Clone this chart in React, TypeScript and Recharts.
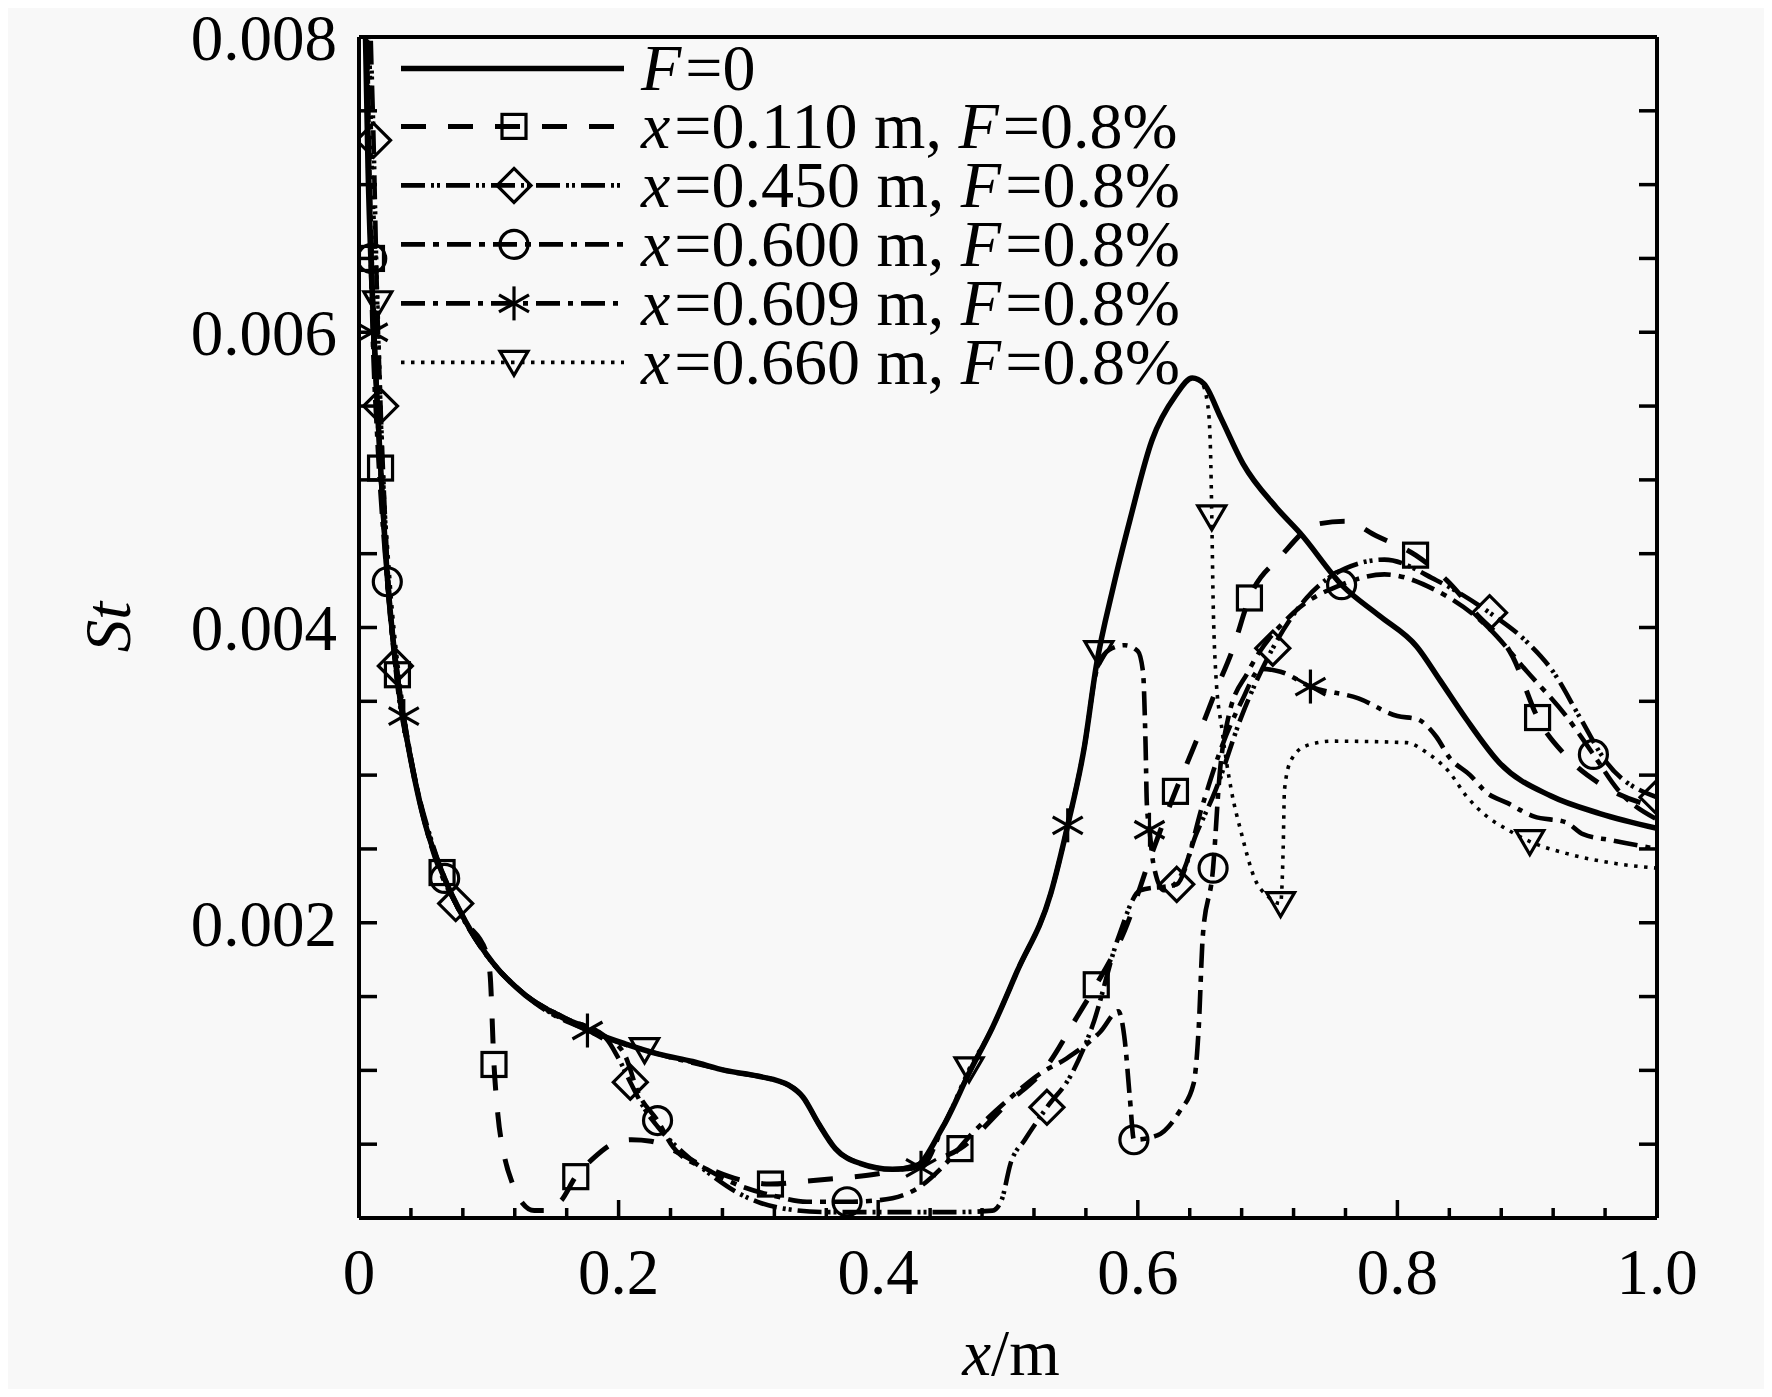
import React from "react";
import { LineChart, Line, XAxis, YAxis, Legend, ReferenceLine } from "recharts";

// [x (m), St, 1 = marker drawn at this point]
const noFilm = [
  [0.003, 0.0095], [0.005, 0.008], [0.007, 0.0071], [0.01, 0.0063], [0.013, 0.0057], [0.0166, 0.0051],
  [0.0218, 0.00435], [0.028, 0.00378], [0.034, 0.0034], [0.04, 0.0031], [0.051, 0.00267], [0.064, 0.00234],
  [0.082, 0.00201], [0.103, 0.00173], [0.128, 0.00151], [0.154, 0.00137], [0.18, 0.00126], [0.205, 0.00118],
  [0.231, 0.00111], [0.257, 0.00106], [0.282, 0.001], [0.308, 0.00096], [0.331, 0.0009], [0.342, 0.00082],
  [0.354, 0.00064], [0.367, 0.00047], [0.386, 0.00037], [0.411, 0.00033], [0.427, 0.00034], [0.45, 0.00062],
  [0.471, 0.001], [0.488, 0.00129], [0.507, 0.00167], [0.533, 0.0022], [0.546, 0.00266], [0.559, 0.0032],
  [0.568, 0.00374], [0.581, 0.00427], [0.594, 0.00473], [0.611, 0.00527], [0.629, 0.00557], [0.642, 0.00569],
  [0.651, 0.00565], [0.664, 0.00542], [0.681, 0.00511], [0.707, 0.00481], [0.725, 0.00464], [0.758, 0.00428],
  [0.786, 0.00408], [0.815, 0.00387], [0.833, 0.00364], [0.853, 0.00338], [0.879, 0.00308], [0.918, 0.00286],
  [0.956, 0.00274], [1.0, 0.00264],
];

const film110 = [
  [0.004, 0.0095], [0.006, 0.0079], [0.0096, 0.0065, 1], [0.013, 0.0057], [0.0166, 0.00508, 1], [0.022, 0.00432],
  [0.0296, 0.00368, 1], [0.04, 0.0031], [0.051, 0.00267], [0.064, 0.00234, 1], [0.082, 0.00201], [0.098, 0.0018],
  [0.101, 0.00165], [0.104, 0.00104, 1], [0.107, 0.0007], [0.112, 0.00042], [0.118, 0.00024], [0.126, 0.0001],
  [0.135, 0.00005], [0.147, 0.00005], [0.156, 0.00012], [0.167, 0.00028, 1], [0.18, 0.0004], [0.195, 0.0005],
  [0.21, 0.00053], [0.225, 0.00052], [0.242, 0.00046], [0.268, 0.00034], [0.293, 0.00026], [0.317, 0.00023, 1],
  [0.345, 0.00025], [0.37, 0.00027], [0.4, 0.0003], [0.43, 0.00036], [0.463, 0.00047, 1], [0.5, 0.00078],
  [0.53, 0.00103], [0.553, 0.00136], [0.568, 0.00158, 1], [0.59, 0.00195], [0.61, 0.00245], [0.629, 0.00289, 1],
  [0.645, 0.00323], [0.66, 0.00357], [0.673, 0.00385], [0.686, 0.0042, 1], [0.71, 0.00448], [0.738, 0.0047],
  [0.76, 0.00472], [0.784, 0.00462], [0.814, 0.00449, 1], [0.838, 0.00432], [0.86, 0.0041], [0.889, 0.0038],
  [0.908, 0.00339, 1], [0.931, 0.00312], [0.96, 0.00292], [1.0, 0.00278],
];

const film450 = [
  [0.006, 0.0095], [0.0085, 0.0082], [0.0112, 0.0073, 1], [0.014, 0.0062], [0.0166, 0.0055, 1], [0.022, 0.0044],
  [0.028, 0.00374, 1], [0.04, 0.0031], [0.055, 0.00258], [0.0745, 0.00213, 1], [0.1, 0.00176], [0.13, 0.0015],
  [0.16, 0.00135], [0.19, 0.00122], [0.2, 0.00108], [0.209, 0.00092, 1], [0.22, 0.00074], [0.23, 0.00062],
  [0.25, 0.00044], [0.27, 0.0003], [0.29, 0.00018], [0.31, 0.0001], [0.33, 0.00006], [0.36, 0.00004],
  [0.42, 0.00004], [0.46, 0.00004], [0.488, 0.00005], [0.495, 0.00012], [0.502, 0.00037], [0.513, 0.00053],
  [0.53, 0.00075, 1], [0.548, 0.00096], [0.565, 0.0013], [0.585, 0.0019], [0.602, 0.00222], [0.63, 0.00226, 1],
  [0.645, 0.0026], [0.66, 0.0029], [0.68, 0.0034], [0.704, 0.00386, 1], [0.73, 0.0042], [0.76, 0.0044],
  [0.79, 0.00446], [0.83, 0.00432], [0.871, 0.0041, 1], [0.9, 0.0039], [0.92, 0.0037], [0.94, 0.0034],
  [0.96, 0.0031], [1.0, 0.00285, 1],
];

const film600 = [
  [0.0045, 0.0095], [0.0065, 0.0079], [0.0098, 0.0065, 1], [0.013, 0.0057], [0.017, 0.005], [0.0218, 0.00431, 1],
  [0.03, 0.0036], [0.04, 0.0031], [0.051, 0.00267], [0.066, 0.0023, 1], [0.082, 0.00201], [0.103, 0.00173],
  [0.13, 0.0015], [0.16, 0.00135], [0.19, 0.00123], [0.205, 0.0011], [0.215, 0.00085], [0.23, 0.00066, 1],
  [0.242, 0.00048], [0.268, 0.00033], [0.293, 0.00022], [0.32, 0.00015], [0.345, 0.00011], [0.376, 0.00011, 1],
  [0.4, 0.00012], [0.43, 0.0002], [0.45, 0.00035], [0.47, 0.00055], [0.5, 0.0008], [0.525, 0.00098],
  [0.545, 0.00108], [0.571, 0.00126], [0.585, 0.0014], [0.59, 0.0012], [0.594, 0.0008], [0.597, 0.00053, 1],
  [0.615, 0.00056], [0.632, 0.00072], [0.643, 0.00091], [0.647, 0.0013], [0.65, 0.0019], [0.658, 0.00237, 1],
  [0.663, 0.003], [0.67, 0.0034], [0.685, 0.0037], [0.72, 0.0041], [0.757, 0.00429, 1], [0.79, 0.00436],
  [0.83, 0.00425], [0.87, 0.004], [0.9, 0.0037], [0.93, 0.0034], [0.951, 0.00314, 1], [0.97, 0.0029],
  [1.0, 0.0027],
];

const film609 = [
  [0.0045, 0.0092], [0.007, 0.0075], [0.0105, 0.006, 1], [0.014, 0.0053], [0.02, 0.0045], [0.027, 0.00385],
  [0.0345, 0.0034, 1], [0.051, 0.00267], [0.082, 0.00201], [0.128, 0.00151], [0.176, 0.00127, 1], [0.231, 0.00111],
  [0.282, 0.001], [0.331, 0.0009], [0.342, 0.00082], [0.354, 0.00064], [0.367, 0.00047], [0.386, 0.00037],
  [0.411, 0.00033], [0.433, 0.00034, 1], [0.45, 0.00062], [0.471, 0.001], [0.488, 0.00129], [0.507, 0.00167],
  [0.533, 0.0022], [0.546, 0.00266, 1], [0.559, 0.0032], [0.568, 0.0037], [0.578, 0.00385], [0.59, 0.00388],
  [0.6, 0.00384], [0.604, 0.0037], [0.606, 0.0032], [0.607, 0.0028], [0.609, 0.00263, 1], [0.612, 0.0024],
  [0.62, 0.00222], [0.635, 0.00235], [0.65, 0.0028], [0.665, 0.0032], [0.68, 0.0035], [0.695, 0.00372],
  [0.71, 0.0037], [0.733, 0.0036, 1], [0.77, 0.00352], [0.8, 0.0034], [0.815, 0.00338], [0.83, 0.00326],
  [0.84, 0.00312], [0.856, 0.003], [0.869, 0.00288], [0.885, 0.00281], [0.905, 0.00272], [0.93, 0.00268],
  [0.943, 0.0026], [0.964, 0.00256], [1.0, 0.0025],
];

const film660 = [
  [0.006, 0.0095], [0.009, 0.0076], [0.0145, 0.0062, 1], [0.018, 0.0052], [0.024, 0.0043], [0.032, 0.0036],
  [0.045, 0.0029], [0.064, 0.00234], [0.082, 0.00201], [0.128, 0.00151], [0.18, 0.00126], [0.22, 0.00114, 1],
  [0.282, 0.001], [0.331, 0.0009], [0.342, 0.00082], [0.354, 0.00064], [0.367, 0.00047], [0.386, 0.00037],
  [0.411, 0.00033], [0.427, 0.00034], [0.45, 0.00062], [0.47, 0.00101, 1], [0.488, 0.00129], [0.507, 0.00167],
  [0.533, 0.0022], [0.546, 0.00266], [0.559, 0.0032], [0.57, 0.00383, 1], [0.581, 0.00427], [0.594, 0.00473],
  [0.611, 0.00527], [0.629, 0.00557], [0.642, 0.00569], [0.649, 0.00566], [0.654, 0.0055], [0.656, 0.0052],
  [0.657, 0.00475, 1], [0.658, 0.0042], [0.66, 0.0037], [0.665, 0.0033], [0.672, 0.0029], [0.68, 0.0026],
  [0.69, 0.0023], [0.7, 0.00218], [0.71, 0.00213, 1], [0.712, 0.0025], [0.713, 0.0029], [0.718, 0.0031],
  [0.73, 0.0032], [0.75, 0.00323], [0.807, 0.00322], [0.823, 0.00315], [0.84, 0.00302], [0.853, 0.00286],
  [0.869, 0.00272], [0.885, 0.00263], [0.902, 0.00255, 1], [0.93, 0.00247], [0.969, 0.0024], [1.0, 0.00237],
];

const xTicks = [
  0, 0.04, 0.08, 0.12, 0.16, 0.2, 0.24, 0.28, 0.32, 0.36, 0.4, 0.44, 0.48, 0.52, 0.56, 0.6, 0.64, 0.68,
  0.72, 0.76, 0.8, 0.84, 0.88, 0.92, 0.96, 1.0,
];
const xMajor = [0, 0.2, 0.4, 0.6, 0.8, 1.0];
const xLabels = ["0", "0.2", "0.4", "0.6", "0.8", "1.0"];

const yTicks = [
  0, 0.0005, 0.001, 0.0015, 0.002, 0.0025, 0.003, 0.0035, 0.004, 0.0045, 0.005, 0.0055, 0.006, 0.0065,
  0.007, 0.0075, 0.008,
];
const yMajor = [0.002, 0.004, 0.006, 0.008];
const yLabels = ["0.002", "0.004", "0.006", "0.008"];

const FONT = "'Liberation Serif', 'Times New Roman', serif";
const FS = 65;
const LEFT = 359;
const RIGHT = 1657;
const BOTTOM = 1218;

const series = [
  { name: "F=0", data: noFilm, dash: undefined, width: 5.5, marker: "" },
  { name: "x=0.110 m, F=0.8%", data: film110, dash: "25 22", width: 5, marker: "square" },
  { name: "x=0.450 m, F=0.8%", data: film450, dash: "24 6 3 3 3 6", width: 4.6, marker: "diamond" },
  { name: "x=0.600 m, F=0.8%", data: film600, dash: "24 8 6 8", width: 4.6, marker: "circle" },
  { name: "x=0.609 m, F=0.8%", data: film609, dash: "24 8 5 8", width: 4.6, marker: "star" },
  { name: "x=0.660 m, F=0.8%", data: film660, dash: "3.5 6.5", width: 3.6, marker: "triangle" },
];

const findLabel = (v: number, major: number[], labels: string[]) => {
  const i = major.findIndex((m) => Math.abs(m - v) < 1e-9);
  return i < 0 ? null : labels[i];
};

function Marker({ kind, cx, cy }: { kind: string; cx: number; cy: number }) {
  const st = { fill: "none", stroke: "#000", strokeWidth: 3.2 };
  if (kind === "square") return <rect x={cx - 12} y={cy - 12} width={24} height={24} {...st} />;
  if (kind === "diamond")
    return <polygon points={`${cx},${cy - 17} ${cx + 17},${cy} ${cx},${cy + 17} ${cx - 17},${cy}`} {...st} />;
  if (kind === "circle") return <circle cx={cx} cy={cy} r={14} {...st} />;
  if (kind === "triangle")
    return <polygon points={`${cx - 14},${cy - 11} ${cx + 14},${cy - 11} ${cx},${cy + 13}`} {...st} />;
  if (kind === "star")
    return (
      <g {...st}>
        <line x1={cx} y1={cy - 17} x2={cx} y2={cy + 17} />
        <line x1={cx - 15} y1={cy - 8.5} x2={cx + 15} y2={cy + 8.5} />
        <line x1={cx - 15} y1={cy + 8.5} x2={cx + 15} y2={cy - 8.5} />
      </g>
    );
  return null;
}

const rows = (pts: number[][]) => pts.map(([x, y, m]) => ({ x, y, m: m === 1 }));

const dotFor = (kind: string) => (p: any) =>
  p.payload && p.payload.m && kind ? (
    <g key={`d${p.index}`}>
      <Marker kind={kind} cx={p.cx} cy={p.cy} />
    </g>
  ) : (
    <g key={`d${p.index}`} />
  );

// italic for the variable names x and F
const richName = (s: string) =>
  s.split(/([xF])/).map((part, i) =>
    part === "x" || part === "F" ? (
      <i key={i} style={{ marginRight: 4 }}>{part}</i>
    ) : (
      <span key={i}>{part}</span>
    )
  );

const XTick = (props: any) => {
  const { x, payload, index } = props;
  const label = findLabel(payload.value, xMajor, xLabels);
  return (
    <g key={`xt${index}`}>
      <line x1={x} x2={x} y1={BOTTOM} y2={BOTTOM - (label ? 18 : 10)} stroke="#000" strokeWidth={3.5} />
      {label && (
        <text x={x} y={1294} textAnchor="middle" fontFamily={FONT} fontSize={FS} fill="#000">
          {label}
        </text>
      )}
    </g>
  );
};

const YTick = (props: any) => {
  const { y, payload, index } = props;
  const label = findLabel(payload.value, yMajor, yLabels);
  return (
    <g key={`yt${index}`}>
      <line x1={LEFT} x2={LEFT + 18} y1={y} y2={y} stroke="#000" strokeWidth={3.5} />
      {label && (
        <text x={337} y={y} dy="0.35em" textAnchor="end" fontFamily={FONT} fontSize={FS} fill="#000">
          {label}
        </text>
      )}
    </g>
  );
};

const RightTick = (props: any) => {
  const { y, index } = props;
  return <line key={`rt${index}`} x1={RIGHT} x2={RIGHT - 18} y1={y} y2={y} stroke="#000" strokeWidth={3.5} />;
};

const YTitle = () => (
  <text
    x={107}
    y={627}
    transform="rotate(-90 107 627)"
    textAnchor="middle"
    dy="0.35em"
    fontFamily={FONT}
    fontSize={FS}
    fontStyle="italic"
    fill="#000"
  >
    St
  </text>
);

const XTitle = () => (
  <text x={1011} y={1375} textAnchor="middle" fontFamily={FONT} fontSize={FS} fill="#000">
    <tspan fontStyle="italic">x</tspan>
    <tspan>/m</tspan>
  </text>
);

const ROW = 58.8;

const LegendBox = () => (
  <div style={{ fontFamily: FONT, fontSize: 66, color: "#000" }}>
    {series.map((s) => (
      <div key={s.name} style={{ display: "flex", alignItems: "center", height: ROW }}>
        <svg width={246} height={ROW} style={{ flex: "none", overflow: "visible" }}>
          <line
            x1={6}
            x2={229}
            y1={ROW / 2}
            y2={ROW / 2}
            stroke="#000"
            strokeWidth={s.width}
            strokeDasharray={s.dash}
          />
          <Marker kind={s.marker} cx={119} cy={ROW / 2} />
        </svg>
        <div style={{ whiteSpace: "nowrap", lineHeight: 0.8 }}>{richName(s.name)}</div>
      </div>
    ))}
  </div>
);

export default function App() {
  return (
    <div style={{ width: 1772, height: 1397, margin: -8, background: "#f8f8f8" }}>
      <LineChart width={1772} height={1397} margin={{ top: 37, right: 0, bottom: 50, left: 0 }}>
        <XAxis
          dataKey="x"
          type="number"
          domain={[0, 1]}
          allowDataOverflow
          ticks={xTicks}
          interval={0}
          tick={XTick}
          tickLine={false}
          tickSize={0}
          height={129}
          axisLine={{ stroke: "#000", strokeWidth: 4 }}
          label={<XTitle />}
        />
        <YAxis
          type="number"
          domain={[0, 0.008]}
          allowDataOverflow
          ticks={yTicks}
          interval={0}
          tick={YTick}
          tickLine={false}
          tickSize={0}
          width={359}
          axisLine={{ stroke: "#000", strokeWidth: 4 }}
          label={<YTitle />}
        />
        <YAxis
          yAxisId="right"
          orientation="right"
          type="number"
          domain={[0, 0.008]}
          allowDataOverflow
          ticks={yTicks}
          interval={0}
          tick={RightTick}
          tickLine={false}
          tickSize={0}
          width={115}
          axisLine={{ stroke: "#000", strokeWidth: 4 }}
        />
        <ReferenceLine y={0.008} stroke="#000" strokeWidth={4} ifOverflow="visible" />
        {series.map((s) => (
          <Line
            key={s.name}
            data={rows(s.data)}
            dataKey="y"
            type="monotone"
            stroke="#000"
            strokeWidth={s.width}
            strokeDasharray={s.dash}
            dot={dotFor(s.marker)}
            activeDot={false}
            legendType="none"
            isAnimationActive={false}
          />
        ))}
        <Legend
          layout="vertical"
          align="center"
          verticalAlign="middle"
          content={() => <LegendBox />}
          wrapperStyle={{ left: 395, top: 38.6, width: 900, height: ROW * 6 }}
        />
      </LineChart>
    </div>
  );
}
